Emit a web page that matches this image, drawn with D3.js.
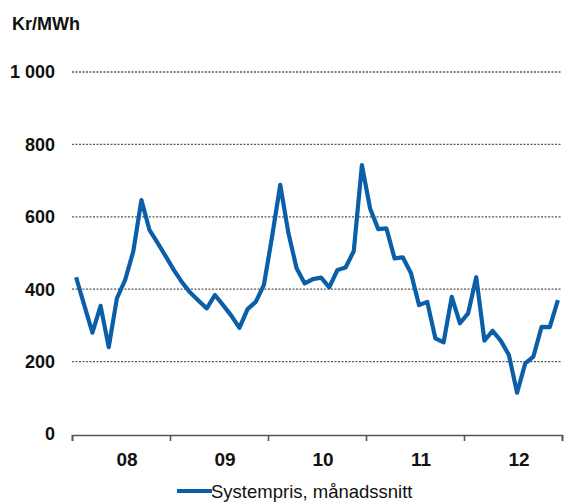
<!DOCTYPE html>
<html><head><meta charset="utf-8">
<script src="https://cdn.jsdelivr.net/npm/d3@7"></script>
<style>
html,body{margin:0;padding:0;background:#fff;}
text{font-family:"Liberation Sans",Arial,sans-serif;}
</style></head>
<body>
<svg id="chart" width="575" height="502"></svg>
<script>
const unitLabel = "Kr/MWh";
const yearLabels = ["08","09","10","11","12"];
const yTicks = [0,200,400,600,800,1000];
const seriesName = "Systempris, månadssnitt";
const v2008 = [433,356,280,354,240,375,425,504,646,563,527,490];
const v2009 = [452,418,390,368,347,384,356,327,293,345,365,412];
const v2010 = [545,688,555,458,416,428,432,405,453,460,505,743];
const v2011 = [623,566,568,485,488,445,356,365,264,253,379,306];
const v2012 = [333,433,258,285,258,218,114,195,214,296,295,370];
const values = [].concat(v2008,v2009,v2010,v2011,v2012);

const svg = d3.select("#chart");
const x = d3.scaleLinear().domain([0, values.length]).range([72, 562]);
const y = d3.scaleLinear().domain([0, 1000]).range([434, 72]);
const fmt = v => d3.format(",")(v).replace(/,/g, " ");

svg.append("text").attr("x", 12).attr("y", 30)
  .attr("font-size", 18).attr("font-weight", "bold").attr("fill", "#111")
  .text(unitLabel);

// gridlines
svg.append("g").selectAll("line").data(yTicks.filter(d => d > 0)).join("line")
  .attr("x1", 72).attr("x2", 562)
  .attr("y1", d => y(d)).attr("y2", d => y(d))
  .attr("stroke", "#555").attr("stroke-width", 1.3).attr("stroke-dasharray", "2,1.5");

// y labels
svg.append("g").selectAll("text").data(yTicks).join("text")
  .attr("x", 55).attr("y", d => y(d)).attr("dy", "0.36em")
  .attr("text-anchor", "end").attr("font-size", 18).attr("font-weight", "bold").attr("fill", "#111")
  .text(fmt);

// x axis
const xAxis = d3.axisBottom(x).tickValues(d3.range(0, values.length + 1, 12)).tickSize(6).tickFormat("");
const gx = svg.append("g").attr("transform", `translate(0,${y(0) + 1})`).call(xAxis);
gx.select(".domain").attr("stroke", "#555").attr("stroke-width", 1.6);
gx.selectAll(".tick line").attr("stroke", "#555").attr("stroke-width", 1.6);

svg.append("g").selectAll("text").data(yearLabels).join("text")
  .attr("x", (d, i) => x(i * 12 + 6) + 6).attr("y", 466)
  .attr("text-anchor", "middle").attr("font-size", 19).attr("font-weight", "bold").attr("fill", "#111")
  .text(d => d);

// series line
const line = d3.line().x((d, i) => x(i + 0.5)).y(d => y(d));
svg.append("path").datum(values).attr("d", line)
  .attr("fill", "none").attr("stroke", "#0b5fa8").attr("stroke-width", 4.2)
  .attr("stroke-linejoin", "round");

// legend
svg.append("line").attr("x1", 177).attr("x2", 212).attr("y1", 491).attr("y2", 491)
  .attr("stroke", "#0b5fa8").attr("stroke-width", 4);
svg.append("text").attr("x", 211).attr("y", 498)
  .attr("font-size", 18.5).attr("fill", "#111").text(seriesName);
</script>
</body></html>
